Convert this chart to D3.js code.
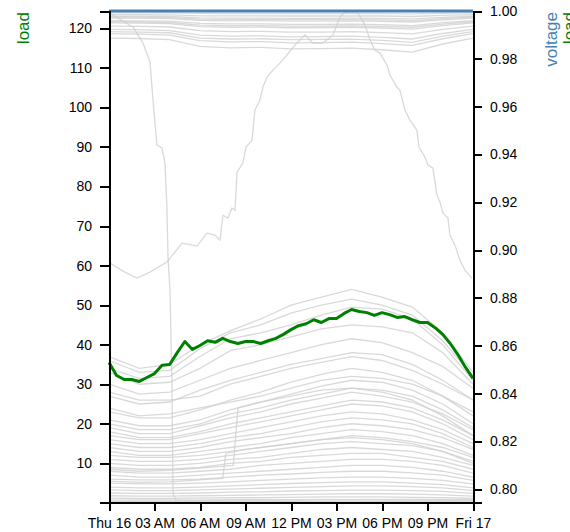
<!DOCTYPE html>
<html>
<head>
<meta charset="utf-8">
<script src="https://cdn.jsdelivr.net/npm/d3@7"></script>
<style>
body { margin: 0; background: #fff; }
svg { font-family: "Liberation Sans", Arial, Helvetica, sans-serif; }
.axis path, .axis line { fill: none; stroke: #000; stroke-width: 2px; shape-rendering: crispEdges; }
.axis text { font-size: 14px; fill: #000; }
.other { fill: none; stroke: #d0d0d0; stroke-width: 1.3px; stroke-opacity: .8; }
.title { font-size: 17px; }
</style>
</head>
<body>
<div id="chart"></div>
<script>
// one day, Thu 16 -> Fri 17
var dayStart = new Date(2015, 6, 16);

// hours of the day for the grey lines
var gridHours = [0, 2, 4, 6, 8, 10, 12, 14, 16, 18, 20, 22, 24];

// half hours for the selected load
var loadHours = [0, 0.5, 1, 1.5, 2, 2.5, 3, 3.5, 4, 4.5, 5, 5.5, 6, 6.5, 7, 7.5, 8, 8.5, 9, 9.5,
                 10, 10.5, 11, 11.5, 12, 12.5, 13, 13.5, 14, 14.5, 15, 15.5, 16, 16.5, 17, 17.5,
                 18, 18.5, 19, 19.5, 20, 20.5, 21, 21.5, 22, 22.5, 23, 23.5, 24];

var selectedLoad = [35.5, 32.2, 31.2, 31.2, 30.7, 31.7, 32.7, 34.8, 35, 38, 40.8, 38.8, 39.8, 41, 40.6,
                    41.6, 40.8, 40.3, 40.8, 40.8, 40.3, 41, 41.6, 42.6, 43.8, 44.8, 45.3, 46.3, 45.6,
                    46.6, 46.6, 47.9, 48.9, 48.4, 48.1, 47.4, 48.1, 47.6, 46.9, 47.1, 46.3, 45.6, 45.6,
                    44.3, 42.6, 40.3, 37.5, 34.3, 31.5];

var selectedVoltage = [1, 1, 1, 1, 1, 1, 1, 1, 1, 1, 1, 1, 1];

// loads of the other nodes, at gridHours
var otherLoads = [
    [37, 34, 35, 40, 43.5, 46.5, 50, 52, 54, 52, 49.5, 43, 33],
    [36, 33, 33.5, 39, 43, 45, 48, 50, 51.5, 50, 47.5, 41, 32],
    [34, 31.5, 32, 37, 41.5, 43, 45, 47.5, 49.5, 49, 46.5, 40, 31],
    [33, 30, 30.5, 34, 38.5, 40, 42, 44, 45, 44.5, 43, 38, 30],
    [30, 27.5, 28, 31, 34, 36, 38, 40, 41.5, 40.5, 38, 34.5, 29],
    [27, 25, 25.5, 28.5, 31, 33, 35, 36.5, 38, 37.5, 35, 31, 26],
    [28, 26, 26, 27, 30, 32, 34, 35.5, 37, 36, 33.5, 30, 26],
    [23, 21.5, 21.5, 23.5, 26, 28, 30.5, 32.5, 34, 33, 31, 27, 22],
    [24, 22, 22.5, 24, 25.5, 27, 29, 31, 32, 31.5, 30, 27, 23],
    [21, 19.5, 19.5, 21, 23.5, 25.5, 27.5, 29.5, 31, 30.5, 28.5, 25, 20],
    [20, 18.5, 18.5, 20, 22.5, 24, 26, 27.5, 29, 28.5, 27, 23.5, 19],
    [19, 17.5, 17.5, 19.5, 21.5, 23, 25, 26.5, 28, 27, 25.5, 22.5, 18.5],
    [18, 16.5, 16.5, 18, 20, 21.5, 23, 24.5, 26, 25.5, 24, 21, 17],
    [17, 16, 16, 17.5, 19, 20.5, 22, 23.5, 25, 24.5, 23, 20, 16],
    [16, 15, 15, 16, 17.5, 19, 20.5, 22, 23, 22.5, 21, 18.5, 15],
    [15, 14, 14, 15, 16.5, 17.5, 19, 20.5, 21.5, 21, 20, 17.5, 14],
    [14, 13, 13, 14, 15.5, 16.5, 17.5, 19, 20, 19.5, 18.5, 16.5, 13.5],
    [13, 12, 12, 13, 14, 15, 16.5, 17.5, 18.5, 18, 17, 15, 12],
    [12, 11.5, 11.5, 12, 13, 14, 15, 16, 17, 16.5, 15.5, 14, 11.5],
    [11, 10.5, 10.5, 11, 12, 13, 14, 15, 15.5, 15, 14.5, 13, 10.5],
    [10, 9.5, 9.5, 10, 11, 11.5, 12.5, 13.5, 14, 13.5, 13, 11.5, 9.5],
    [9, 8.5, 8.5, 9, 10, 10.5, 11.5, 12, 12.5, 12.5, 11.5, 10.5, 8.5],
    [8, 7.5, 7.5, 8, 8.5, 9.5, 10, 10.5, 11, 11, 10.5, 9.5, 7.5],
    [7, 6.5, 6.5, 7, 7.5, 8, 8.5, 9, 9.5, 9.5, 9, 8, 6.5],
    [6, 5.8, 5.8, 6, 6.5, 7, 7.3, 7.7, 8, 8, 7.6, 7, 5.7],
    [5, 4.8, 4.8, 5, 5.3, 5.7, 6, 6.3, 6.5, 6.5, 6.2, 5.7, 4.8],
    [4, 3.8, 3.8, 4, 4.3, 4.6, 4.9, 5.1, 5.3, 5.3, 5, 4.6, 3.8],
    [3.3, 3.1, 3.1, 3.3, 3.5, 3.7, 3.9, 4.1, 4.3, 4.3, 4.1, 3.8, 3.1],
    [2.5, 2.4, 2.4, 2.5, 2.7, 2.8, 3, 3.1, 3.2, 3.2, 3.1, 2.9, 2.4],
    [1.8, 1.7, 1.7, 1.8, 1.9, 2, 2.1, 2.2, 2.3, 2.3, 2.2, 2, 1.7],
    [1.2, 1.1, 1.1, 1.2, 1.3, 1.3, 1.4, 1.5, 1.5, 1.5, 1.4, 1.3, 1.1],
    [0.7, 0.7, 0.7, 0.7, 0.8, 0.8, 0.8, 0.9, 0.9, 0.9, 0.9, 0.8, 0.7],
    [0.4, 0.4, 0.4, 0.4, 0.4, 0.5, 0.5, 0.5, 0.5, 0.5, 0.5, 0.4, 0.4]
];

// two loads that switch on in the morning, [hour, load]
var steppedLoads = [
    [[0, 5.5], [2, 5.2], [4, 5.3], [6, 5.8], [7.5, 6.2], [7.7, 12.5], [9, 13.5], [12, 15], [14, 16],
     [16, 16.5], [18, 16], [20, 15], [22, 13], [24, 10]],
    [[0, 8.5], [2, 8], [4, 8.2], [6, 8.8], [8.2, 9.5], [8.5, 24], [10, 25.5], [12, 27], [14, 28.5],
     [16, 29], [18, 28], [20, 26], [22, 22], [24, 17]]
];

// voltages of the other nodes, at gridHours
var otherVolts = [
    [0.9992, 0.9992, 0.9992, 0.999, 0.9989, 0.9989, 0.9989, 0.9989, 0.9989, 0.9989, 0.9988, 0.999, 0.9992],
    [0.9985, 0.9985, 0.9984, 0.998, 0.998, 0.998, 0.9979, 0.9979, 0.9979, 0.9979, 0.9977, 0.9982, 0.9985],
    [0.9978, 0.9978, 0.9977, 0.9971, 0.997, 0.997, 0.9969, 0.9969, 0.997, 0.9969, 0.9967, 0.9973, 0.9978],
    [0.9974, 0.9974, 0.9972, 0.9966, 0.9965, 0.9965, 0.9964, 0.9964, 0.9964, 0.9963, 0.996, 0.9968, 0.9974],
    [0.997, 0.9969, 0.9968, 0.9961, 0.9959, 0.996, 0.9958, 0.9958, 0.9959, 0.9957, 0.9954, 0.9963, 0.997],
    [0.996, 0.9959, 0.9958, 0.9948, 0.9946, 0.9946, 0.9944, 0.9944, 0.9945, 0.9943, 0.9939, 0.9951, 0.996],
    [0.9955, 0.9954, 0.9952, 0.9941, 0.9939, 0.9939, 0.9937, 0.9937, 0.9938, 0.9936, 0.9932, 0.9945, 0.9955],
    [0.995, 0.9949, 0.9947, 0.9935, 0.9932, 0.9933, 0.993, 0.9931, 0.9932, 0.9929, 0.9924, 0.9939, 0.995],
    [0.9937, 0.9936, 0.9933, 0.9918, 0.9914, 0.9915, 0.9912, 0.9912, 0.9914, 0.991, 0.9904, 0.9923, 0.9937],
    [0.9923, 0.9922, 0.9918, 0.9899, 0.9895, 0.9896, 0.9892, 0.9893, 0.9895, 0.989, 0.9883, 0.9906, 0.9923],
    [0.9914, 0.9912, 0.9909, 0.9887, 0.9883, 0.9884, 0.988, 0.9881, 0.9882, 0.9877, 0.9869, 0.9895, 0.9914],
    [0.9905, 0.9903, 0.9899, 0.9876, 0.9871, 0.9872, 0.9867, 0.9868, 0.987, 0.9864, 0.9856, 0.9884, 0.9905],
    [0.9887, 0.9885, 0.988, 0.9852, 0.9846, 0.9848, 0.9842, 0.9843, 0.9845, 0.9838, 0.9828, 0.9862, 0.9887]
];

// node whose voltage collapses early in the morning, [hour, voltage]
var droppedVolt = [[0, 0.9992], [1.58, 0.9933], [2.24, 0.9866], [2.7, 0.9787], [2.9, 0.9628], [3.16, 0.9439],
    [3.49, 0.9427], [3.69, 0.9364], [3.82, 0.918], [3.89, 0.8971], [4.02, 0.8833], [4.15, 0.8456],
    [4.22, 0.7983], [4.42, 0.7954], [8, 0.7952], [12, 0.7948], [16, 0.7947], [20, 0.795], [24, 0.7956]];

// node whose voltage swings up during the day, [hour, voltage]
var swingVolt = [[0, 0.895], [0.4, 0.8933], [1.05, 0.8908], [1.85, 0.8883], [2.7, 0.8908], [3.82, 0.895],
    [4.81, 0.9029], [5.8, 0.9017], [6.46, 0.9071], [6.99, 0.9063], [7.32, 0.9042], [7.51, 0.9146],
    [7.84, 0.9134], [8.11, 0.9176], [8.31, 0.9167], [8.44, 0.9326], [8.83, 0.9364], [9.03, 0.9431],
    [9.43, 0.946], [9.62, 0.9586], [9.95, 0.9628], [10.15, 0.9682], [10.42, 0.9724], [10.81, 0.9753],
    [11.27, 0.9782], [11.73, 0.9816], [12.26, 0.9858], [12.92, 0.99], [13.45, 0.9866], [14.11, 0.9866],
    [14.77, 0.99], [15.23, 0.9975], [15.56, 0.9996], [16.35, 0.9996], [16.88, 0.9941], [17.21, 0.9879],
    [17.53, 0.9837], [17.86, 0.9824], [18.33, 0.9774], [18.52, 0.9732], [18.98, 0.9682], [19.18, 0.9669],
    [19.51, 0.9586], [19.84, 0.9544], [20.3, 0.9502], [20.44, 0.9431], [20.83, 0.9389], [21.03, 0.9356],
    [21.36, 0.9343], [21.62, 0.923], [21.82, 0.9201], [22.02, 0.9155], [22.35, 0.9134], [22.48, 0.9063],
    [22.81, 0.9021], [23.14, 0.8958], [23.47, 0.8916], [23.93, 0.8883]];

var loadDomain = [0.22, 124.37];
var voltDomain = [0.7947, 1.0];

////////////////////////////////////////////////////////////////////////

var margin = {top: 11, right: 97, bottom: 30, left: 109},
    width = 570 - margin.left - margin.right,
    height = 532 - margin.top - margin.bottom;

function at(h) { return new Date(+dayStart + h * 36e5); }

var x = d3.scaleTime()
    .domain([dayStart, d3.timeDay.offset(dayStart, 1)])
    .range([0, width]);
var yLoad = d3.scaleLinear().domain(loadDomain).range([height, 0]);
var yVolt = d3.scaleLinear().domain(voltDomain).range([height, 0]);

var loadLine = d3.line()
    .x(function(d) { return x(at(d[0])); })
    .y(function(d) { return yLoad(d[1]); });
var voltLine = d3.line()
    .x(function(d) { return x(at(d[0])); })
    .y(function(d) { return yVolt(d[1]); });

function pairs(hours, values) {
    return values.map(function(v, i) { return [hours[i], v]; });
}

var svg = d3.select("#chart").append("svg")
    .attr("width", 570)
    .attr("height", 532);

var g = svg.append("g")
    .attr("transform", "translate(" + margin.left + "," + margin.top + ")");

// grey background lines
g.selectAll(".vother")
    .data(otherVolts.map(function(s) { return pairs(gridHours, s); }).concat([droppedVolt, swingVolt]))
    .enter().append("path")
    .attr("class", "other vother")
    .attr("d", voltLine);

g.selectAll(".lother")
    .data(otherLoads.map(function(s) { return pairs(gridHours, s); }).concat(steppedLoads))
    .enter().append("path")
    .attr("class", "other lother")
    .attr("d", loadLine);

// selected node
g.append("path")
    .datum(pairs(loadHours, selectedLoad))
    .attr("fill", "none")
    .attr("stroke", "green")
    .attr("stroke-width", 3)
    .attr("stroke-linejoin", "round")
    .attr("d", loadLine);

g.append("path")
    .datum(pairs(gridHours, selectedVoltage))
    .attr("fill", "none")
    .attr("stroke", "steelblue")
    .attr("stroke-width", 3)
    .attr("d", voltLine);

// axes
g.append("g")
    .attr("class", "axis")
    .attr("transform", "translate(0," + height + ")")
    .call(d3.axisBottom(x).ticks(d3.timeHour.every(3)).tickSize(9).tickPadding(7));

g.append("g")
    .attr("class", "axis")
    .call(d3.axisLeft(yLoad).tickSize(9).tickPadding(8));

g.append("g")
    .attr("class", "axis")
    .attr("transform", "translate(" + width + ",0)")
    .call(d3.axisRight(yVolt).tickSize(9).tickPadding(8));

// axis titles
svg.append("text")
    .attr("class", "title")
    .attr("transform", "translate(29,12) rotate(-90)")
    .attr("text-anchor", "end")
    .attr("fill", "green")
    .text("load");

svg.append("text")
    .attr("class", "title")
    .attr("transform", "translate(557,12) rotate(-90)")
    .attr("text-anchor", "end")
    .attr("fill", "steelblue")
    .text("voltage");

svg.append("text")
    .attr("class", "title")
    .attr("transform", "translate(575,12) rotate(-90)")
    .attr("text-anchor", "end")
    .attr("fill", "green")
    .text("load");
</script>
</body>
</html>
